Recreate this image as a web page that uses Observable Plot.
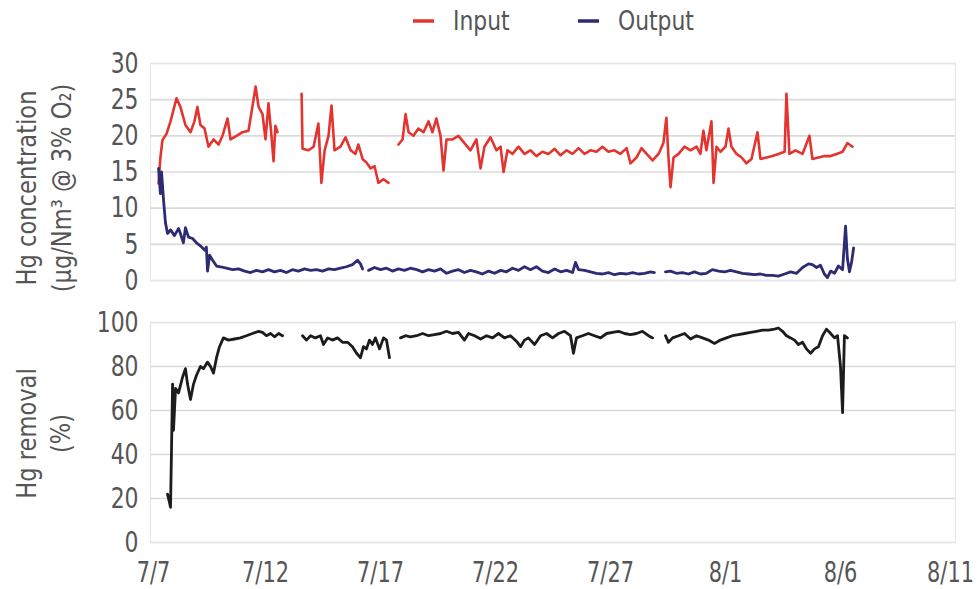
<!DOCTYPE html>
<html>
<head>
<meta charset="utf-8">
<script src="https://cdn.jsdelivr.net/npm/d3@7"></script>
<script src="https://cdn.jsdelivr.net/npm/@observablehq/plot@0.6"></script>
<style>
  body { margin: 0; background: #fff; }
  #wrap { width: 977px; height: 589px; overflow: hidden; font-family: "DejaVu Sans Condensed", "DejaVu Sans", sans-serif; }
  #wrap svg { display: block; }
</style>
</head>
<body>
<div id="wrap"></div>
<script>
// ---------- data (days since 7/7, values; null = gap) ----------
const seriesNames = ["Input", "Output"];
const seriesColors = ["#e3342f", "#2c2b73"];
const removalColor = "#1c1c1c";

const tickDays = [0, 5, 10, 15, 20, 25, 30, 35];
const tickLabels = ["7/7", "7/12", "7/17", "7/22", "7/27", "8/1", "8/6", "8/11"];
const concTicks = [0, 5, 10, 15, 20, 25, 30];
const removalTicks = [0, 20, 40, 60, 80, 100];

const inputDays = [0.35,0.43,0.52,0.70,0.87,1.13,1.30,1.52,1.74,1.91,2.04,2.17,2.35,2.52,2.74,2.96,3.13,3.35,3.48,3.74,4.00,4.26,4.43,4.57,4.70,4.87,5.00,5.13,5.26,5.35,5.43,5.52,
  null,
  6.57,6.61,6.87,7.09,7.30,7.43,7.57,7.74,7.87,8.00,8.26,8.48,8.70,8.91,9.04,9.22,9.39,9.57,9.74,9.91,10.13,10.35,
  null,
  10.78,10.96,11.09,11.22,11.43,11.65,11.87,12.09,12.26,12.43,12.61,12.74,12.87,13.13,13.39,13.65,13.91,14.17,14.35,14.52,14.78,15.04,15.22,15.35,15.52,15.74,16.00,16.26,16.52,16.78,17.04,17.30,17.57,17.83,18.09,18.35,18.61,18.87,19.13,19.39,19.65,19.91,20.17,20.43,20.70,20.87,21.13,21.35,21.57,21.83,22.09,22.30,22.43,22.52,22.61,22.74,22.96,23.22,23.48,23.74,23.91,24.04,24.17,24.39,24.48,24.61,24.78,25.00,25.13,25.26,25.48,25.70,25.91,26.13,26.39,26.52,26.78,27.04,27.30,27.57,27.65,27.78,28.04,28.35,28.65,28.78,29.04,29.30,29.57,29.83,30.09,30.30,30.52];
const inputValues = [13.4,17,19.4,20.3,22,25.2,24,21.5,20.5,22,24,21.5,21,18.5,19.5,18.8,20,22.4,19.5,20,20.5,20.7,24,26.8,24,23,19.5,24.5,20,16.5,21.4,20.5,
  null,
  25.8,18.2,18,18.5,21.7,13.5,18,20,24.2,18,18.5,19.8,18,17.5,18.8,16.8,16.3,15.5,15.8,13.5,14,13.5,
  null,
  18.8,19.5,23,20.5,20,21,20.5,22,20.5,22.4,20,15.2,19.5,19.5,20,19,18,19.5,15.5,18.5,19.8,18,18.5,15,18,17.5,18.5,17.5,18,17.2,17.8,17.5,18.2,17.3,18,17.5,18.3,17.5,18,17.8,18.5,17.8,18,17.5,18.3,16.2,17,18.3,17.5,16.6,17.5,19,22.5,17,12.9,17,17.5,18.5,18,18.5,17.5,20.7,18,22,13.5,18.5,17.8,18.5,21,18.5,17.5,17,16.2,16.8,20.5,16.8,17,17.2,17.5,17.8,25.8,17.5,18,17.5,20,16.8,17,17.2,17.2,17.5,17.8,19,18.5];

const outputDays = [0.35,0.43,0.48,0.57,0.65,0.74,0.87,1.04,1.22,1.30,1.43,1.52,1.65,1.83,2.00,2.17,2.35,2.43,2.48,2.57,2.70,2.87,3.04,3.30,3.57,3.83,4.09,4.35,4.61,4.87,5.13,5.39,5.65,5.91,6.17,6.43,6.70,6.96,7.22,7.48,7.74,8.00,8.26,8.52,8.78,9.00,9.13,9.22,
  null,
  9.48,9.74,10.00,10.26,10.52,10.78,11.04,11.30,11.57,11.83,12.09,12.35,12.61,12.87,13.13,13.39,13.65,13.91,14.17,14.43,14.70,14.96,15.22,15.48,15.74,16.00,16.26,16.52,16.78,17.04,17.30,17.57,17.83,18.09,18.35,18.48,18.61,18.87,19.13,19.39,19.65,19.91,20.17,20.43,20.70,20.96,21.22,21.48,21.74,21.91,
  null,
  22.39,22.61,22.87,23.13,23.39,23.65,23.91,24.17,24.43,24.70,24.96,25.22,25.48,25.74,26.00,26.26,26.52,26.78,27.04,27.30,27.57,27.83,28.09,28.35,28.61,28.78,28.96,29.13,29.30,29.43,29.57,29.74,29.91,30.09,30.22,30.30,30.39,30.48,30.57];
const outputValues = [15.5,12,15,11,8,6.5,7,6.2,7.2,6.5,5.2,7.3,6,5.8,5.2,4.8,4.2,4.6,1.3,3.5,2.8,2,1.9,1.7,1.5,1.6,1.3,1.1,1.4,1.2,1.5,1.2,1.4,1.1,1.5,1.3,1.6,1.4,1.5,1.3,1.6,1.5,1.7,1.9,2.2,2.8,2.3,1.6,
  null,
  1.4,1.8,1.5,1.7,1.3,1.6,1.4,1.7,1.5,1.2,1.5,1.3,1.6,1.0,1.3,1.5,1.1,1.4,1.2,0.9,1.3,1.0,1.4,1.2,1.7,1.4,1.9,1.5,1.9,1.3,1.1,1.6,1.2,1.4,1.1,2.5,1.5,1.4,1.2,1.0,0.9,1.1,0.8,1.0,0.9,1.1,0.9,1.0,1.2,1.1,
  null,
  1.2,1.3,1.0,1.1,0.9,1.2,0.9,1.0,1.5,1.3,1.2,1.4,1.2,1.0,0.9,0.8,0.9,0.7,0.7,0.6,0.9,1.2,1.0,1.8,2.3,2.2,1.8,2.1,0.9,0.4,1.3,1.0,2.0,1.5,7.5,3.0,1.2,2.5,4.5];

const removalDays = [0.74,0.83,0.87,0.91,0.96,1.00,1.09,1.22,1.39,1.52,1.61,1.74,1.87,2.00,2.17,2.30,2.48,2.61,2.74,2.87,3.00,3.17,3.39,3.65,3.91,4.17,4.43,4.70,4.87,5.04,5.22,5.39,5.57,5.74,
  null,
  6.61,6.78,6.96,7.17,7.39,7.52,7.70,7.91,8.13,8.35,8.57,8.78,8.96,9.13,9.26,9.39,9.52,9.65,9.78,9.96,10.13,10.26,10.39,
  null,
  10.87,11.09,11.30,11.57,11.83,12.09,12.35,12.61,12.87,13.13,13.39,13.65,13.83,14.09,14.35,14.61,14.87,15.13,15.39,15.65,15.91,16.09,16.26,16.43,16.70,16.96,17.22,17.48,17.74,18.00,18.26,18.39,18.52,18.78,19.04,19.30,19.57,19.83,20.09,20.35,20.61,20.87,21.13,21.39,21.65,21.83,
  null,
  22.39,22.52,22.70,22.96,23.22,23.48,23.74,24.00,24.26,24.52,24.78,25.04,25.30,25.57,25.83,26.09,26.35,26.61,26.87,27.13,27.30,27.48,27.65,27.83,28.00,28.17,28.35,28.52,28.70,28.87,29.04,29.22,29.39,29.57,29.74,29.87,30.00,30.09,30.17,30.30];
const removalValues = [22,18,16,40,72,51,70,68,75,79,72,65,72,76,80,79,82,80,77,84,89,93,92,92.5,93,94,95,96,95.5,94,95,93.5,95,94,
  null,
  94,92,94,93,94,90,93,92,93,91,91,89,86,84,89,88,92,90,93,88,93,92,84,
  null,
  93,94,93.5,94,95,94,94.5,95,96,95,95.5,92,95,94,92.5,94,93,95,93,94,91.5,89,92,93,90,94,95,93,95,96,94,86,93,94,95,94,93,95,95.5,96,95,94.5,95,96,94,93,
  null,
  94,91,93,94,95,92.5,94,93,92,90.5,92,93,94,94.5,95,95.5,96,96.5,96.5,97,97.5,96,94,93,92,90,91,88,86,88,89,94,97,95,93,94,80,59,94,93];

// ---------- helpers ----------
const START = Date.UTC(2010, 6, 7);
const toDate = d => (d == null ? null : new Date(START + d * 864e5));
const rows = (days, vals) => days.map((d, i) => ({date: toDate(d), value: vals[i]}));
const labelByTime = new Map(tickDays.map((d, i) => [toDate(d).getTime(), tickLabels[i]]));
const xDomain = [toDate(tickDays[0]), toDate(tickDays[tickDays.length - 1])];
const FONT = '"DejaVu Sans Condensed", "DejaVu Sans", sans-serif';
const TEXT = "#555";
const GRID = "#dadada";

// narrow the glyphs horizontally (the reference uses a condensed face)
const isNum = v => v != null && v !== "" && /^-?[\d.]+$/.test(v);
function condense(root, selector, k, shift) {
  d3.select(root).selectAll(selector).each(function (_, i, nodes) {
    const t = d3.select(this);
    const xa = t.attr("x"), ya = t.attr("y");
    const x = isNum(xa) ? +xa : 0, y = isNum(ya) ? +ya : 0;
    if (isNum(xa)) t.attr("x", null);
    if (isNum(ya)) t.attr("y", null);
    const tr = t.attr("transform") || "";
    const sx = shift ? shift(i, nodes.length) : 0;
    t.attr("transform", `${tr} translate(${x + sx},${y}) scale(${k},1)`.trim());
  });
}

const wrap = document.getElementById("wrap");

// ---------- legend ----------
const legendSvg = d3.create("svg").attr("width", 977).attr("height", 45);
const legendX = [413, 578];
seriesNames.forEach((name, i) => {
  legendSvg.append("line")
    .attr("x1", legendX[i]).attr("x2", legendX[i] + 21)
    .attr("y1", 21).attr("y2", 21)
    .attr("stroke", seriesColors[i]).attr("stroke-width", 3.5);
  legendSvg.append("text")
    .attr("x", legendX[i] + 40).attr("y", 30)
    .attr("fill", TEXT).attr("font-family", FONT).attr("font-size", 27)
    .text(name);
});
condense(legendSvg.node(), "text", 0.9);
wrap.appendChild(legendSvg.node());

// ---------- top panel: concentrations ----------
const concPlot = Plot.plot({
  width: 977, height: 255,
  marginLeft: 150, marginRight: 22, marginTop: 18, marginBottom: 20,
  style: {fontFamily: FONT, fontSize: "29px", color: TEXT, background: "transparent", overflow: "visible"},
  x: {type: "utc", domain: xDomain, axis: null},
  y: {domain: [0, 30], ticks: concTicks, tickSize: 0, tickPadding: 12, label: null},
  marks: [
    Plot.gridY(concTicks, {stroke: GRID, strokeOpacity: 1, strokeWidth: 1.6}),
    Plot.frame({stroke: "#e6e6e6", strokeWidth: 1.2}),
    Plot.line(rows(inputDays, inputValues), {x: "date", y: "value", stroke: seriesColors[0], strokeWidth: 2.6}),
    Plot.line(rows(outputDays, outputValues), {x: "date", y: "value", stroke: seriesColors[1], strokeWidth: 2.8}),
    Plot.text(["Hg concentration"], {frameAnchor: "left", dx: -123, dy: 16, rotate: -90, fill: TEXT, fontSize: 27, textAnchor: "middle"}),
    Plot.text(["(µg/Nm³ @ 3% O₂)"], {frameAnchor: "left", dx: -88, dy: 16, rotate: -90, fill: TEXT, fontSize: 27, textAnchor: "middle"})
  ]
});
condense(concPlot, "g[aria-label='y-axis tick label'] text", 0.84);
condense(concPlot, "g[aria-label='text'] text", 0.93);
wrap.appendChild(concPlot);

// ---------- bottom panel: removal ----------
const removalPlot = Plot.plot({
  width: 977, height: 289,
  marginLeft: 150, marginRight: 22, marginTop: 22, marginBottom: 47,
  style: {fontFamily: FONT, fontSize: "29px", color: TEXT, background: "transparent", overflow: "visible"},
  x: {type: "utc", domain: xDomain, ticks: tickDays.map(toDate), tickFormat: d => labelByTime.get(d.getTime()), tickSize: 0, tickPadding: 19, label: null},
  y: {domain: [0, 100], ticks: removalTicks, tickSize: 0, tickPadding: 12, label: null},
  marks: [
    Plot.gridY(removalTicks, {stroke: GRID, strokeOpacity: 1, strokeWidth: 1.6}),
    Plot.frame({stroke: "#e6e6e6", strokeWidth: 1.2}),
    Plot.line(rows(removalDays, removalValues), {x: "date", y: "value", stroke: removalColor, strokeWidth: 2.8}),
    Plot.text(["Hg removal"], {frameAnchor: "left", dx: -123, dy: 1, rotate: -90, fill: TEXT, fontSize: 27, textAnchor: "middle"}),
    Plot.text(["(%)"], {frameAnchor: "left", dx: -89, dy: 1, rotate: -90, fill: TEXT, fontSize: 27, textAnchor: "middle"})
  ]
});
condense(removalPlot, "g[aria-label='y-axis tick label'] text", 0.84);
condense(removalPlot, "g[aria-label='x-axis tick label'] text", 0.8, (i, n) => (i === 0 ? 3 : i === n - 1 ? -5 : 0));
condense(removalPlot, "g[aria-label='text'] text", 0.93);
wrap.appendChild(removalPlot);
</script>
</body>
</html>
